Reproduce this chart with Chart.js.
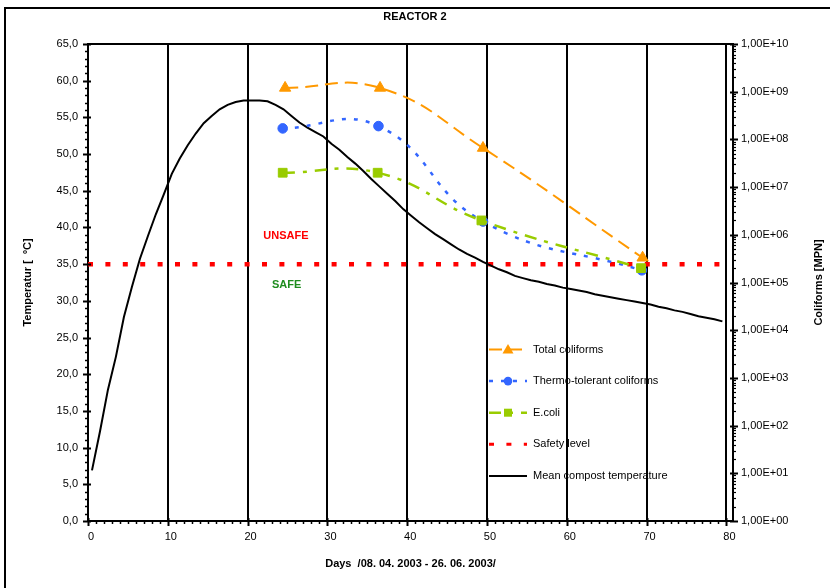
<!DOCTYPE html>
<html>
<head>
<meta charset="utf-8">
<script src="https://cdn.jsdelivr.net/npm/chart.js@4.4.1/dist/chart.umd.min.js"></script>
<style>
html,body{margin:0;padding:0;background:#fff;}
canvas{display:block;}
</style>
</head>
<body>
<canvas id="c" width="830" height="588"></canvas>
<script>
// ---------- DATA ----------
const tempDays = [0.5,1.5,2.5,3.5,4.5,5.5,6.5,7.5,8.5,9.5,10.5,11.5,12.5,13.5,14.5,15.5,16.5,17.5,18.5,19.5,
  20.5,21.5,22.5,23.5,24.5,25.5,26.5,27.5,28.5,29.5,30.5,31.5,32.5,33.5,34.5,35.5,36.5,37.5,38.5,39.5,
  40.5,41.5,42.5,43.5,44.5,45.5,46.5,47.5,48.5,49.5,50.5,51.5,52.5,53.5,54.5,55.5,56.5,57.5,58.5,59.5,
  60.5,61.5,62.5,63.5,64.5,65.5,66.5,67.5,68.5,69.5,70.5,71.5,72.5,73.5,74.5,75.5,76.5,77.5,78.5,79.5];
const meanTemp = [6.9,12.2,17.9,22.4,27.8,31.9,35.7,38.8,41.8,44.5,47.3,49.4,51.2,52.8,54.2,55.2,56.1,56.7,57.1,57.3,
  57.3,57.3,57.2,56.7,56.1,55.2,54.3,53.6,53.0,52.4,51.4,50.6,49.6,48.7,47.7,46.6,45.6,44.6,43.6,42.5,
  41.6,40.7,39.9,39.1,38.4,37.7,37.0,36.4,35.9,35.3,34.8,34.3,33.9,33.4,33.1,32.8,32.6,32.3,32.1,31.8,
  31.6,31.4,31.2,30.9,30.7,30.5,30.3,30.1,29.9,29.7,29.5,29.2,29.0,28.7,28.5,28.2,27.9,27.7,27.5,27.2];

const totalDays  = [24.7, 36.6, 49.5, 69.5];
const totalColi  = [1.2e9, 1.2e9, 6.6e7, 3.3e5];
const thermoDays = [24.4, 36.4, 49.5, 69.4];
const thermoColi = [1.7e8, 1.9e8, 1.9e6, 1.8e5];
const ecoliDays  = [24.4, 36.3, 49.3, 69.3];
const ecoliColi  = [2.0e7, 2.0e7, 2.0e6, 2.0e5];
const safetyDays = [0, 80];
const safetyTemp = [35, 35];

const xTicks  = [0,10,20,30,40,50,60,70,80];
const yTicks  = [0,5,10,15,20,25,30,35,40,45,50,55,60,65];
const y2Exps  = [0,1,2,3,4,5,6,7,8,9,10];

const labels = {
  title: 'REACTOR 2',
  xTitle: 'Days  /08. 04. 2003 - 26. 06. 2003/',
  yTitle: 'Temperatur [  ºC]',
  y2Title: 'Coliforms [MPN]',
  unsafe: 'UNSAFE', safe: 'SAFE'
};
const zoneLabelPos = {unsafe: [24.8, 38.8], safe: [24.9, 32.1]};

// ---------- HELPERS ----------
const zip = (xs, ys) => xs.map((x, i) => ({x, y: ys[i]}));
const FONT = '"Liberation Sans", Arial, Helvetica, sans-serif';
Chart.defaults.font.family = FONT;
Chart.defaults.font.size = 11;
Chart.defaults.color = '#000';

const COLORS = {total:'#FF9900', thermo:'#3366FF', ecoli:'#99CC00', safety:'#FF0000', temp:'#000000'};

const datasets = [
  {label:'Total coliforms', data: zip(totalDays, totalColi), yAxisID:'y2',
   borderColor:COLORS.total, backgroundColor:COLORS.total, borderWidth:2, borderDash:[13,7],
   pointStyle:'triangle', pointRadius:6.5, pointBorderWidth:1, tension:0.45, order:1},
  {label:'Thermo-tolerant coliforms', data: zip(thermoDays, thermoColi), yAxisID:'y2',
   borderColor:COLORS.thermo, backgroundColor:COLORS.thermo, borderWidth:2.5, borderDash:[4,8],
   pointStyle:'circle', pointRadius:4.8, pointBorderWidth:1, tension:0.45, order:3},
  {label:'E.coli', data: zip(ecoliDays, ecoliColi), yAxisID:'y2',
   borderColor:COLORS.ecoli, backgroundColor:COLORS.ecoli, borderWidth:2.5, borderDash:[12,8,4,8],
   pointStyle:'rect', pointRadius:6.2, pointBorderWidth:1, tension:0.45, order:2},
  {label:'Safety level', data: zip(safetyDays, safetyTemp), yAxisID:'y',
   borderColor:COLORS.safety, backgroundColor:COLORS.safety, borderWidth:4.5, borderDash:[5,12.4],
   pointRadius:0, tension:0, order:5},
  {label:'Mean compost temperature', data: zip(tempDays, meanTemp), yAxisID:'y',
   borderColor:COLORS.temp, backgroundColor:COLORS.temp, borderWidth:2,
   pointRadius:0, tension:0, order:4}
];

function line(ctx, x1, y1, x2, y2) { ctx.beginPath(); ctx.moveTo(x1, y1); ctx.lineTo(x2, y2); ctx.stroke(); }

function marker(ctx, style, x, y, color) {
  ctx.save();
  ctx.setLineDash([]);
  ctx.fillStyle = color; ctx.strokeStyle = color; ctx.lineWidth = 1;
  ctx.beginPath();
  if (style === 'triangle') {
    ctx.moveTo(x, y - 5.5); ctx.lineTo(x + 5.5, y + 4); ctx.lineTo(x - 5.5, y + 4); ctx.closePath();
  } else if (style === 'circle') {
    ctx.arc(x, y, 4.3, 0, Math.PI * 2);
  } else if (style === 'rect') {
    ctx.rect(x - 4, y - 4, 8, 8);
  }
  ctx.fill();
  ctx.restore();
}

const extras = {
  id: 'extras',
  beforeDraw(chart) {
    const ctx = chart.ctx;
    ctx.save();
    ctx.fillStyle = '#fff'; ctx.fillRect(0, 0, chart.width, chart.height);
    ctx.strokeStyle = '#000'; ctx.lineWidth = 2;
    ctx.strokeRect(5, 8, 900, 700);
    ctx.restore();
  },
  afterDraw(chart) {
    const {ctx, chartArea: a, scales: {x, y, y2}} = chart;
    ctx.save();
    ctx.strokeStyle = '#000';
    // top frame
    ctx.lineWidth = 2;
    line(ctx, a.left - 1, a.top, a.right + 1, a.top);
    // left axis ticks
    for (let v = 0; v <= 65; v += 1) {
      const py = Math.round(y.getPixelForValue(v)) + 0.5;
      if (v % 5 === 0) { ctx.lineWidth = 2; line(ctx, a.left - 5, py, a.left + 3, py); }
      else { ctx.lineWidth = 1.5; line(ctx, a.left - 3, py, a.left, py); }
    }
    // bottom axis ticks
    for (let v = 0; v <= 80; v += 1) {
      const px = Math.round(x.getPixelForValue(v)) + 0.5;
      if (v % 10 === 0) { ctx.lineWidth = 2; line(ctx, px, a.bottom - 3, px, a.bottom + 5); }
      else { ctx.lineWidth = 1.5; line(ctx, px, a.bottom, px, a.bottom + 3); }
    }
    // right axis ticks
    for (let e = 0; e <= 10; e++) {
      const py = Math.round(y2.getPixelForValue(Math.pow(10, e))) + 0.5;
      ctx.lineWidth = 2; line(ctx, a.right - 3, py, a.right + 5, py);
      if (e < 10) {
        for (let m = 2; m <= 9; m++) {
          const pm = Math.round(y2.getPixelForValue(m * Math.pow(10, e))) + 0.5;
          ctx.lineWidth = 1.2; line(ctx, a.right, pm, a.right + 3, pm);
        }
      }
    }
    // right axis title (reads bottom-to-top)
    ctx.save();
    ctx.fillStyle = '#000';
    ctx.font = 'bold 11px ' + FONT;
    ctx.textAlign = 'center'; ctx.textBaseline = 'middle';
    ctx.translate(819, (a.top + a.bottom) / 2);
    ctx.rotate(-Math.PI / 2);
    ctx.fillText(labels.y2Title, 0, 0);
    ctx.restore();

    // zone labels
    ctx.font = 'bold 11px ' + FONT;
    ctx.textAlign = 'center'; ctx.textBaseline = 'middle';
    ctx.fillStyle = '#FF0000';
    ctx.fillText(labels.unsafe, x.getPixelForValue(zoneLabelPos.unsafe[0]), y.getPixelForValue(zoneLabelPos.unsafe[1]));
    ctx.fillStyle = '#1E8C1E';
    ctx.fillText(labels.safe, x.getPixelForValue(zoneLabelPos.safe[0]), y.getPixelForValue(zoneLabelPos.safe[1]));

    // legend
    const lx0 = 489, lx1 = 527, lmx = 508, ltx = 533, ly0 = 349.5, lstep = 31.6;
    chart.data.datasets.forEach((ds, i) => {
      const ly = ly0 + i * lstep;
      ctx.save();
      ctx.strokeStyle = ds.borderColor;
      ctx.lineWidth = Math.min(ds.borderWidth, 3);
      ctx.setLineDash(ds.borderDash || []);
      line(ctx, lx0, ly, lx1, ly);
      ctx.restore();
      if (ds.pointStyle && ds.pointRadius > 0) marker(ctx, ds.pointStyle, lmx, ly, ds.borderColor);
      ctx.fillStyle = '#000';
      ctx.font = '11px ' + FONT;
      ctx.textAlign = 'left'; ctx.textBaseline = 'middle';
      ctx.fillText(ds.label, ltx, ly);
    });
    ctx.restore();
  }
};

new Chart(document.getElementById('c'), {
  type: 'line',
  data: {datasets},
  options: {
    responsive: false,
    animation: false,
    devicePixelRatio: 1,
    layout: {padding: {left: 0, right: 0, top: 0, bottom: 0}},
    plugins: {
      legend: {display: false},
      tooltip: {enabled: false},
      title: {display: true, text: labels.title, color: '#000',
        font: {size: 11, weight: 'bold', family: FONT}, padding: {top: 10, bottom: 20.8}}
    },
    scales: {
      x: {
        type: 'linear', position: 'bottom', min: 0, max: 80.83,
        afterBuildTicks: s => { s.ticks = xTicks.map(v => ({value: v})); },
        afterFit: s => { s.height = 67; },
        ticks: {autoSkip: false, maxRotation: 0, padding: 9, labelOffset: 3, color: '#000', font: {size: 11},
          callback: v => String(v)},
        grid: {color: '#000', lineWidth: 2, drawTicks: false, drawOnChartArea: true},
        border: {display: true, color: '#000', width: 2},
        title: {display: true, text: labels.xTitle, color: '#000',
          font: {size: 11, weight: 'bold', family: FONT}, padding: {top: 0, bottom: 17.4}}
      },
      y: {
        type: 'linear', position: 'left', min: 0, max: 65,
        afterBuildTicks: s => { s.ticks = yTicks.map(v => ({value: v})); },
        afterFit: s => { s.width = 88; },
        ticks: {autoSkip: false, padding: 10, color: '#000', font: {size: 11},
          callback: v => v.toFixed(1).replace('.', ',')},
        grid: {drawOnChartArea: false, drawTicks: false},
        border: {display: true, color: '#000', width: 2},
        title: {display: true, text: labels.yTitle, color: '#000',
          font: {size: 11, weight: 'bold', family: FONT}, padding: {top: 21.4, bottom: 0}}
      },
      y2: {
        type: 'logarithmic', position: 'right', min: 1, max: 1e10,
        afterBuildTicks: s => { s.ticks = y2Exps.map(e => ({value: Math.pow(10, e)})); },
        afterFit: s => { s.width = 97; },
        ticks: {autoSkip: false, padding: 8, color: '#000', font: {size: 11},
          callback: v => {
            const e = Math.round(Math.log10(v));
            return '1,00E+' + String(e).padStart(2, '0');
          }},
        grid: {drawOnChartArea: false, drawTicks: false},
        border: {display: true, color: '#000', width: 2},
        title: {display: false}
      }
    }
  },
  plugins: [extras]
});
</script>
</body>
</html>
